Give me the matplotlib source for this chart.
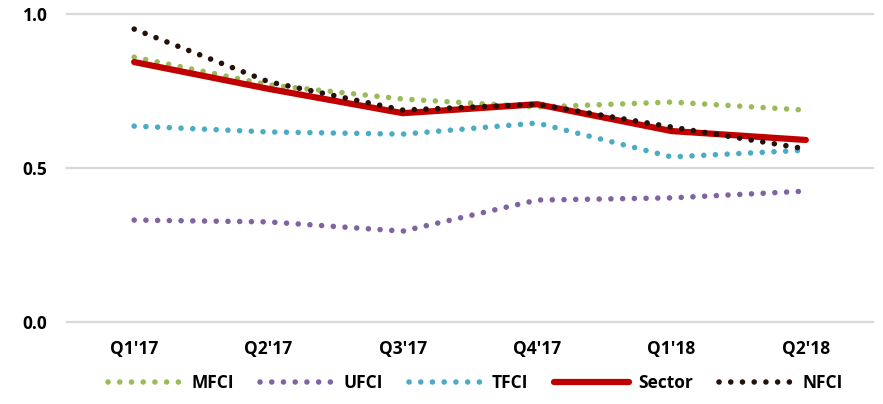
import matplotlib
matplotlib.use("Agg")
import matplotlib.pyplot as plt

categories = ["Q1'17", "Q2'17", "Q3'17", "Q4'17", "Q1'18", "Q2'18"]
mfci   = [0.860, 0.770, 0.724, 0.698, 0.714, 0.688]
ufci   = [0.331, 0.325, 0.295, 0.396, 0.403, 0.425]
tfci   = [0.636, 0.617, 0.610, 0.646, 0.536, 0.558]
sector = [0.844, 0.757, 0.678, 0.707, 0.620, 0.591]
nfci   = [0.951, 0.780, 0.688, 0.707, 0.633, 0.562]
yticks = [0.0, 0.5, 1.0]
ytick_labels = ["0.0", "0.5", "1.0"]

plt.rcParams['font.family'] = ['Open Sans', 'DejaVu Sans']

fig = plt.figure(figsize=(8.83, 4.04), dpi=100)
ax = fig.add_axes([67/883, (404-322)/404, (873-67)/883, (322-14)/404])
x = list(range(len(categories)))

dot = (0, (0.01, 2.1))
lw_dot = 4.0
ax.plot(x, mfci, color='#9bbb59', lw=lw_dot, linestyle=dot, dash_capstyle='round', label='MFCI', zorder=3)
ax.plot(x, ufci, color='#8064a2', lw=lw_dot, linestyle=dot, dash_capstyle='round', label='UFCI', zorder=3)
ax.plot(x, tfci, color='#4bacc6', lw=lw_dot, linestyle=dot, dash_capstyle='round', label='TFCI', zorder=3)
ax.plot(x, sector, color='#c00000', lw=4.5, solid_capstyle='round', label='Sector', zorder=4)
ax.plot(x, nfci, color='#261108', lw=lw_dot, linestyle=dot, dash_capstyle='round', label='NFCI', zorder=5)

ax.set_xlim(-0.5, 5.5)
ax.set_ylim(0, 1.0)
ax.set_yticks(yticks)
ax.set_yticklabels(ytick_labels)
ax.set_xticks(x)
ax.set_xticklabels(categories)
for yt in yticks:
    ax.axhline(yt, color='#d9d9d9', lw=1.6, zorder=1, clip_on=False)
for s in ax.spines.values():
    s.set_visible(False)
ax.tick_params(length=0)
ax.tick_params(axis='y', pad=14)
ax.tick_params(axis='x', pad=13)
for lab in ax.get_xticklabels() + ax.get_yticklabels():
    lab.set_fontweight('bold')
    lab.set_fontsize(12.5)
    lab.set_color('#000000')

leg = fig.legend(loc='center', bbox_to_anchor=(0.538, (404-383)/404), ncol=5, frameon=False,
                 handlelength=4.3, columnspacing=1.5, handletextpad=0.5,
                 prop={'weight': 'bold', 'size': 12.5})
fig.savefig('out.png', dpi=100)
